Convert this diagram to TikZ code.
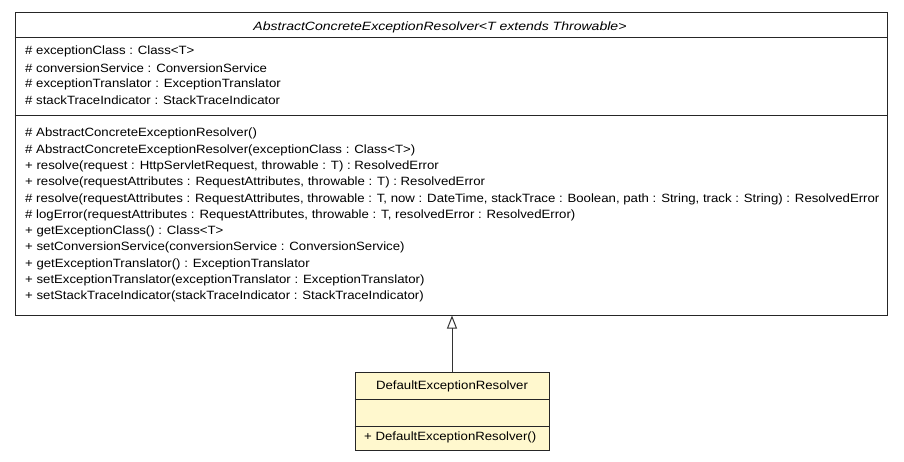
\documentclass[tikz,border=0pt]{standalone}
\usepackage{fontspec}
\setmainfont[FakeStretch=1.1]{Liberation Sans}
\newfontfamily\titlefont[FakeStretch=1.17]{Liberation Sans}
\usetikzlibrary{arrows.meta}
\definecolor{noteyellow}{RGB}{255,248,206}

\begin{document}
\begin{tikzpicture}[x=1pt, y=-1pt, font=\fontsize{12}{14}\selectfont,
    classbox/.style={draw=black!85, line width=1pt, inner sep=0pt},
    member/.style={anchor=west, inner sep=0pt}]

   \useasboundingbox (0,0) rectangle (904,461);

   % abstract parent class
   \node [classbox, minimum width=872pt, minimum height=303pt]
      (resolver) at (451,163.5) {};
   \node (resolvertitle) at (440,27.5) {\titlefont\itshape AbstractConcreteExceptionResolver<T extends Throwable>};
   \draw [black!85] (resolver.west |- 0,37.5) -- (resolver.east |- 0,37.5);
   \draw [black!85] (resolver.west |- 0,115) -- (resolver.east |- 0,115);

   \foreach [count=\i] \t in {%
      \# exceptionClass : Class<T>,
      \# conversionService : ConversionService,
      \# exceptionTranslator : ExceptionTranslator,
      \# stackTraceIndicator : StackTraceIndicator}
     \node [member] (attr\i) at (25,{51.7+(\i-1)*16.2}) {\t};

   \foreach [count=\i] \t in {%
      \# AbstractConcreteExceptionResolver(),
      \# AbstractConcreteExceptionResolver(exceptionClass : Class<T>),
      + resolve(request : HttpServletRequest{,} throwable : T) : ResolvedError,
      + resolve(requestAttributes : RequestAttributes{,} throwable : T) : ResolvedError,
      \# resolve(requestAttributes : RequestAttributes{,} throwable : T{,} now : DateTime{,} stackTrace : Boolean{,} path : String{,} track : String) : ResolvedError,
      \# logError(requestAttributes : RequestAttributes{,} throwable : T{,} resolvedError : ResolvedError),
      + getExceptionClass() : Class<T>,
      + setConversionService(conversionService : ConversionService),
      + getExceptionTranslator() : ExceptionTranslator,
      + setExceptionTranslator(exceptionTranslator : ExceptionTranslator),
      + setStackTraceIndicator(stackTraceIndicator : StackTraceIndicator)}
     \node [member] (op\i) at (25,{133.8+(\i-1)*16.29}) {\t};

   % concrete subclass
   \node [classbox, fill=noteyellow, minimum width=194pt, minimum height=78pt]
      (default) at (452,411.2) {};
   \node (defaulttitle) at (452,386) {DefaultExceptionResolver};
   \draw [black!85] (default.west |- 0,399.3) -- (default.east |- 0,399.3);
   \draw [black!85] (default.west |- 0,425.7) -- (default.east |- 0,425.7);
   \node [member] (defaultop) at (364,437.5) {+ DefaultExceptionResolver()};

   % generalization
   \draw [black!80, line width=1pt, -{Triangle[open, length=13pt, width=10pt]}]
      (default.north) -- (default.north |- resolver.south);

\end{tikzpicture}
\end{document}
